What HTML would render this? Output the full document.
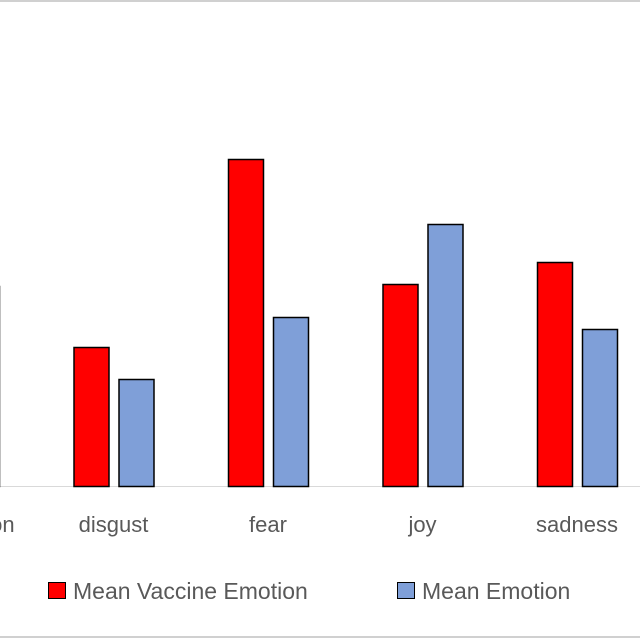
<!DOCTYPE html>
<html><head><meta charset="utf-8"><style>
body{margin:0;background:#fff;}
svg{display:block;font-family:"Liberation Sans","DejaVu Sans",sans-serif;}
</style></head><body>
<svg id="chart" width="640" height="640">
<rect x="0" y="0" width="640" height="640" fill="#fff"/>
<line x1="0" y1="1" x2="640" y2="1" stroke="#d0d0d0" stroke-width="2"/>
<line x1="0" y1="637" x2="640" y2="637" stroke="#d0d0d0" stroke-width="2"/>
<line x1="0" y1="486.5" x2="640" y2="486.5" stroke="#d9d9d9" stroke-width="1"/>
<g id="bars"></g>
<g id="labels"></g>
<g>
<rect x="48.5" y="582.5" width="17" height="16" fill="#ff0000" stroke="#000"/>
<text x="73" y="599" font-size="23" fill="#595959">Mean Vaccine Emotion</text>
<rect x="397.5" y="582.5" width="17" height="16" fill="#7f9fd8" stroke="#000"/>
<text x="422" y="599" font-size="23" fill="#595959">Mean Emotion</text>
</g>
</svg>
<script>
const categories = ["anticipation","disgust","fear","joy","sadness"];
const vaccineValues = [0.2, 0.139, 0.327, 0.202, 0.224];
const emotionValues = [0.2, 0.107, 0.169, 0.262, 0.157];
const NS="http://www.w3.org/2000/svg";
const baseY=486, pxPerUnit=1000, firstCenter=-41, step=154.5, barW=35;
function xCenter(i){return firstCenter+step*i;}
function yScale(v){return baseY-v*pxPerUnit;}
const bars=document.getElementById('bars'), labels=document.getElementById('labels');
categories.forEach((c,i)=>{
  const cx=xCenter(i);
  [[vaccineValues[i],"#ff0000",cx-40,"vaccine"],[emotionValues[i],"#7f9fd8",cx+5,"emotion"]].forEach(([v,col,x,s])=>{
    const r=document.createElementNS(NS,'rect');
    r.setAttribute('x',x+0.5);r.setAttribute('y',yScale(v)+0.5);
    r.setAttribute('width',barW);r.setAttribute('height',baseY-yScale(v));
    r.setAttribute('fill',col);r.setAttribute('stroke','#000');r.setAttribute('stroke-width','1.5');
    
    
    bars.appendChild(r);
  });
  const t=document.createElementNS(NS,'text');
  t.setAttribute('x',cx);t.setAttribute('y',532);t.setAttribute('text-anchor','middle');
  t.setAttribute('font-size','22');t.setAttribute('fill','#595959');
  t.textContent=c;
  
  
  labels.appendChild(t);
});
</script>
</body></html>
